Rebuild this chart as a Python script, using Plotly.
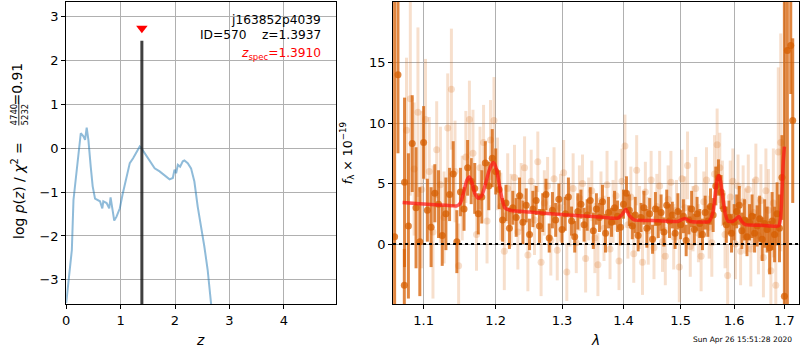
import plotly.graph_objects as go

# ---------------- data ----------------
# p(z) curve
pz_z = [0.0, 0.043, 0.104, 0.134, 0.183, 0.244, 0.268, 0.317, 0.347, 0.377, 0.408, 0.451, 0.487, 0.530,
        0.621, 0.664, 0.682, 0.743, 0.791, 0.816, 0.852, 0.883, 0.925, 0.986, 1.035, 1.078, 1.120, 1.169,
        1.230, 1.291, 1.352, 1.382, 1.425, 1.473, 1.565, 1.626, 1.717, 1.839, 1.900, 1.960, 1.991, 2.021,
        2.052, 2.094, 2.143, 2.173, 2.234, 2.295, 2.356, 2.417, 2.478, 2.539, 2.600, 2.661, 2.70]
pz_logp = [-3.53, -3.0, -2.32, -1.18, -0.57, 0.19, 0.34, 0.27, 0.19, 0.47, 0.19, -0.42, -0.87, -1.15,
           -1.21, -1.37, -1.21, -1.25, -1.37, -1.12, -1.40, -1.65, -1.56, -1.37, -1.06, -0.83, -0.57, -0.34,
           -0.23, -0.11, 0.04, 0.0, -0.08, -0.19, -0.34, -0.46, -0.53, -0.64, -0.71, -0.68, -0.49, -0.57,
           -0.38, -0.42, -0.30, -0.28, -0.34, -0.46, -0.76, -1.33, -1.75, -2.24, -2.77, -3.53, -4.0]
z_spec = 1.3910
z_best = 1.3937
zspec_line_top = 2.45
zspec_marker_y = 2.73
chi2_num = 4740
chi2_den = 5232
chi2_red = 0.91

# spectrum: binned (dark) points
dark_wave = [1.075, 1.080, 1.085, 1.090, 1.095, 1.100, 1.105, 1.110, 1.115, 1.120, 1.125, 1.130, 1.135,
             1.140, 1.145, 1.150, 1.155, 1.160, 1.165, 1.170, 1.175, 1.180, 1.185, 1.190, 1.195, 1.200,
             1.205, 1.210, 1.215, 1.220, 1.225, 1.230, 1.235, 1.240, 1.245, 1.250, 1.255, 1.260, 1.265,
             1.270, 1.275, 1.280, 1.285, 1.290, 1.295, 1.300, 1.305, 1.310, 1.315, 1.320, 1.325, 1.330,
             1.335, 1.340, 1.345, 1.350, 1.355, 1.360, 1.365, 1.370, 1.375, 1.380, 1.385, 1.390, 1.395,
             1.400, 1.405, 1.410, 1.415, 1.420, 1.425, 1.430, 1.435, 1.440, 1.445, 1.450, 1.455, 1.460,
             1.465, 1.470, 1.475, 1.480, 1.485, 1.490, 1.495, 1.500, 1.505, 1.510, 1.515, 1.520, 1.525,
             1.530, 1.535, 1.540, 1.545, 1.550, 1.555, 1.560, 1.565, 1.570, 1.575, 1.580, 1.585, 1.590,
             1.595, 1.600, 1.605, 1.610, 1.615, 1.620, 1.625, 1.630, 1.635, 1.640, 1.645, 1.650, 1.655,
             1.660, 1.665, 1.670, 1.675, 1.680, 1.685, 1.690, 1.695]
dark_flux = [5.1, 1.5, 8.3, 3.0, 0.2, 8.4, 2.8, 1.4, 4.2, 3.3, 0.7, 2.5, 4.1,
             5.8, 0.2, 4.3, 2.9, 6.3, 5.2, 4.6, 2.5, 3.9, 6.7, 4.8, 7.1, 6.0,
             4.5, 2.0, 3.4, 1.3, 3.0, 2.2, 4.0, 1.8, 3.2, 0.8, 2.9, 3.6, 1.5,
             2.6, 4.1, 0.5, 2.8, 2.0, 3.7, 1.2, 2.5, 3.9, 1.9, 0.6, 2.7, 3.3,
             1.6, 2.4, 3.6, 1.1, 2.9, 2.2, 3.5, 0.9, 2.6, 1.8, 3.0, 2.3, 1.4,
             3.3, 4.2, 2.8, 1.5, 2.4, 0.7, 2.2, 3.0, 1.3, 2.5, 0.4, 2.9, 1.8,
             2.6, 1.0, 3.2, 1.9, 2.4, 0.9, 2.7, 1.6, 2.3, 0.3, 2.0, 2.9, 1.2,
             2.5, 1.7, 0.8, 2.6, 1.9, 3.1, 2.4, 4.8, 5.5, 4.3, 2.9, 1.6, 2.2,
             0.9, 1.8, 2.7, 3.2, 1.1, 2.0, 0.6, 1.8, 2.3, 0.9, 1.5, 2.1, 0.4,
             1.7, 1.2, -0.3, 1.9, 0.8, 2.5, 1.3, 5.5]
dark_err = [7.0, 6.0, 4.0, 5.0, 4.5,
            3.0, 2.6, 3.3, 2.4, 2.8, 2.5, 3.0, 2.2, 2.7, 2.6,
            2.0, 1.8, 2.3, 1.9, 2.1, 1.7, 2.2, 1.8, 2.0, 2.4, 1.9, 1.6, 1.8, 1.5, 1.7, 1.4, 1.6, 1.5, 1.8, 1.4,
            1.3, 1.5, 1.2, 1.4, 1.6, 1.3, 1.2, 1.5, 1.4, 1.3, 1.1, 1.4, 1.6, 1.2, 1.3, 1.5, 1.2, 1.4, 1.3, 1.1,
            1.5, 1.3, 1.2, 1.4, 1.6, 1.3, 1.2, 1.4, 1.3, 1.5, 1.2, 1.4, 1.3, 1.1, 1.5, 1.3, 1.2, 1.4, 1.6, 1.3,
            1.2, 1.4, 1.3, 1.5, 1.2, 1.3, 1.4, 1.1, 1.3, 1.5, 1.2, 1.4, 1.3, 1.2, 1.5, 1.3, 1.4, 1.2, 1.3, 1.4,
            1.3, 1.5, 1.4, 1.6, 1.5, 1.4, 1.3, 1.5, 1.4, 1.6, 1.5, 1.4, 1.6, 1.5, 1.7, 1.6, 1.5, 1.8, 1.6, 1.7,
            1.9, 1.8, 2.0, 1.9, 2.2, 2.4, 2.3, 2.6, 2.8, 3.5]

# edge points with very large uncertainties
edge_wave = [1.0622, 1.0665, 1.0747, 1.7000, 1.7061, 1.7131, 1.7172]
edge_flux = [0.6, 14.0, -3.4, -4.3, 16.0, 16.4, 10.2]
edge_err = [26.0, 6.5, 3.0, 26.0, 22.0, 4.0, 6.8]

# spectrum: unbinned (light) points
light_wave = [1.0775, 1.0825, 1.0875, 1.0925, 1.0975, 1.1025, 1.1075, 1.1125, 1.1175, 1.1225, 1.1275,
              1.1325, 1.1375, 1.1425, 1.1475, 1.1525, 1.1575, 1.1625, 1.1675, 1.1725, 1.1775, 1.1825,
              1.1875, 1.1925, 1.1975, 1.2025, 1.2075, 1.2125, 1.2175, 1.2225, 1.2275, 1.2325, 1.2375,
              1.2425, 1.2475, 1.2525, 1.2575, 1.2625, 1.2675, 1.2725, 1.2775, 1.2825, 1.2875, 1.2925,
              1.2975, 1.3025, 1.3075, 1.3125, 1.3175, 1.3225, 1.3275, 1.3325, 1.3375, 1.3425, 1.3475,
              1.3525, 1.3575, 1.3625, 1.3675, 1.3725, 1.3775, 1.3825, 1.3875, 1.3925, 1.3975, 1.4025,
              1.4075, 1.4125, 1.4175, 1.4225, 1.4275, 1.4325, 1.4375, 1.4425, 1.4475, 1.4525, 1.4575,
              1.4625, 1.4675, 1.4725, 1.4775, 1.4825, 1.4875, 1.4925, 1.4975, 1.5025, 1.5075, 1.5125,
              1.5175, 1.5225, 1.5275, 1.5325, 1.5375, 1.5425, 1.5475, 1.5525, 1.5575, 1.5625, 1.5675,
              1.5725, 1.5775, 1.5825, 1.5875, 1.5925, 1.5975, 1.6025, 1.6075, 1.6125, 1.6175, 1.6225,
              1.6275, 1.6325, 1.6375, 1.6425, 1.6475, 1.6525, 1.6575, 1.6625, 1.6675, 1.6725, 1.6775,
              1.6825, 1.6875, 1.6925]
light_flux = [9.4, 12.0, 6.2, 10.9, 4.5, 10.3, 6.0, 1.0, 7.8, 4.9, 2.2,
              9.6, 12.8, 6.0, -1.8, 3.8, 7.2, 10.3, 7.5, 0.8, 6.3, 8.4,
              1.9, 8.6, 10.2, 5.8, 3.1, -0.6, 4.6, 2.8, 5.5, 1.0, 3.9,
              6.3, -0.9, 5.2, 2.0, 6.8, -1.5, 3.4, 4.8, 0.3, 5.4, -0.5,
              3.0, 5.9, -2.3, 2.4, 4.6, 0.1, 3.8, 5.0, -1.2, 2.9, 4.4,
              0.5, -1.7, 3.6, 1.3, 4.9, -0.4, 2.7, 4.0, -1.4, 5.2, 8.1,
              1.6, 3.9, -0.8, 6.1, 2.2, -1.5, 4.3, 1.1, 5.3, -0.3, 3.1,
              4.8, 0.2, -1.0, 3.7, 5.1, 0.6, 2.8, -1.9, 5.4, 3.0, 6.5,
              -0.2, 2.1, 4.6, 0.9, -1.0, 3.5, 5.3, 1.4, 0.1, 5.8, 8.2,
              6.3, 4.2, 0.8, -2.6, 3.9, 5.2, 0.0, 4.8, -0.6, 3.5, 1.9,
              4.5, -0.4, 2.6, 5.3, 0.7, 3.6, -1.1, 4.4, 2.8, -2.2, 3.4,
              -3.4, 7.6, 8.4]
light_err = [6.0, 8.0, 5.5, 7.0, 6.5,
             5.0, 4.5, 5.5, 4.0, 4.8, 3.8, 4.5, 5.0, 4.2, 3.5,
             3.5, 3.8, 3.2, 3.6, 3.0, 3.4, 3.1, 3.5, 3.3, 3.6, 3.0, 2.8, 3.2, 2.9, 3.0, 2.7, 3.1, 2.8, 2.6, 3.0,
             2.6, 2.9, 2.5, 2.8, 2.7, 2.4, 2.9, 2.6, 2.5, 2.8, 2.7, 2.4, 2.6, 2.9, 2.5, 2.7, 2.4, 2.8, 2.6, 2.5,
             2.9, 2.6, 2.4, 2.7, 2.8, 2.5, 2.6, 2.9, 2.4, 2.7, 2.6, 2.8, 2.5, 2.4, 2.9, 2.6, 2.7, 2.5, 2.8, 2.4,
             2.6, 2.7, 2.9, 2.5, 2.4, 2.8, 2.6, 2.7, 2.5, 2.9, 2.4, 2.6, 2.8, 2.5, 2.7, 2.6, 2.4, 2.9, 2.5, 2.7,
             2.6, 2.8, 3.2, 3.0, 2.9, 2.7, 2.8, 2.6, 3.0, 2.7, 2.9, 2.6, 2.8, 3.0, 2.7, 2.9, 3.1, 2.8, 3.0, 3.2,
             3.0, 3.3, 3.5, 3.4, 3.8, 4.5, 5.5, 7.0, 9.0]

# best-fit model
model_wave = [1.0725, 1.09, 1.11, 1.13, 1.145, 1.150, 1.155, 1.159, 1.1625, 1.166, 1.170, 1.175, 1.180,
              1.185, 1.190, 1.1945, 1.1973, 1.201, 1.205, 1.209, 1.2133, 1.223, 1.25, 1.3037, 1.35,
              1.3904, 1.397, 1.404, 1.41, 1.418, 1.45, 1.4944, 1.5075, 1.5185, 1.5519, 1.559, 1.564,
              1.5675, 1.5707, 1.574, 1.578, 1.583, 1.588, 1.597, 1.603, 1.609, 1.615, 1.6221, 1.65,
              1.6883, 1.6922, 1.6975, 1.700]
model_flux = [3.43, 3.35, 3.27, 3.2, 3.16, 3.4, 4.4, 5.3, 5.55, 5.1, 4.2, 3.79, 4.0,
              4.9, 6.0, 6.6, 6.73, 6.2, 5.0, 3.8, 3.0, 2.77, 2.65, 2.42, 2.28,
              2.14, 2.4, 2.88, 2.35, 2.0, 1.94, 1.87, 2.12, 1.87, 1.87, 2.5, 4.1,
              5.3, 5.66, 5.2, 3.9, 2.5, 1.9, 1.87, 2.05, 2.28, 1.85, 1.6, 1.55,
              1.51, 2.14, 6.68, 8.05]

assert len(dark_wave) == len(dark_flux) == len(dark_err)
assert len(light_wave) == len(light_flux) == len(light_err)
assert len(model_wave) == len(model_flux)

zticks = [0, 1, 2, 3, 4]
pticks = [-3, -2, -1, 0, 1, 2, 3]
wticks = [1.1, 1.2, 1.3, 1.4, 1.5, 1.6, 1.7]
fticks = [0, 5, 10, 15]

# ---------------- styles ----------------
W, H = 800, 350
FONT = "DejaVu Sans"
G141 = "213,94,0"
grid = "#b0b0b0"

fig = go.Figure()

# left panel
fig.add_trace(go.Scatter(x=pz_z, y=pz_logp, mode="lines", xaxis="x", yaxis="y",
                         line=dict(color="rgba(31,119,180,0.5)", width=2), hoverinfo="skip"))
fig.add_trace(go.Scatter(x=[z_spec, z_spec], y=[-3.7, zspec_line_top], mode="lines", xaxis="x", yaxis="y",
                         line=dict(color="rgba(30,30,30,0.85)", width=3), hoverinfo="skip"))
fig.add_trace(go.Scatter(x=[z_spec], y=[zspec_marker_y], mode="markers", xaxis="x", yaxis="y",
                         marker=dict(symbol="triangle-down", color="red", size=10, line=dict(width=0)),
                         hoverinfo="skip", cliponaxis=False))

# right panel
fig.add_trace(go.Scatter(x=light_wave, y=light_flux, mode="markers", xaxis="x2", yaxis="y2",
                         marker=dict(color=f"rgba({G141},0.2)", size=7, line=dict(width=0)),
                         error_y=dict(type="data", array=light_err, visible=True, width=0, thickness=3,
                                      color=f"rgba({G141},0.2)"),
                         hoverinfo="skip"))
fig.add_trace(go.Scatter(x=dark_wave, y=dark_flux, mode="markers", xaxis="x2", yaxis="y2",
                         marker=dict(color=f"rgba({G141},0.75)", size=7, line=dict(width=0)),
                         error_y=dict(type="data", array=dark_err, visible=True, width=0, thickness=3,
                                      color=f"rgba({G141},0.75)"),
                         hoverinfo="skip"))
fig.add_trace(go.Scatter(x=edge_wave, y=edge_flux, mode="markers", xaxis="x2", yaxis="y2",
                         marker=dict(color=f"rgba({G141},0.75)", size=7, line=dict(width=0)),
                         error_y=dict(type="data", array=edge_err, visible=True, width=0, thickness=3,
                                      color=f"rgba({G141},0.75)"),
                         hoverinfo="skip"))
fig.add_trace(go.Scatter(x=model_wave, y=model_flux, mode="lines", xaxis="x2", yaxis="y2",
                         line=dict(color="rgba(255,20,20,0.7)", width=3.5, shape="spline", smoothing=0.5),
                         hoverinfo="skip"))

axis_common = dict(showgrid=True, gridcolor=grid, gridwidth=1, zeroline=False,
                   showline=True, linecolor="black", linewidth=1, mirror=True,
                   ticks="outside", ticklen=4, tickcolor="black",
                   tickfont=dict(family=FONT, size=13, color="black"))

def px2x(px):
    return px / W

def px2y(py):
    return 1 - py / H

fig.update_layout(
    width=W, height=H, margin=dict(l=0, r=0, t=0, b=0),
    paper_bgcolor="white", plot_bgcolor="white", showlegend=False,
    xaxis=dict(domain=[px2x(62.5), px2x(334)], range=[0, 4.965], tickvals=zticks, anchor="y", **axis_common),
    yaxis=dict(domain=[px2y(304), px2y(2)], range=[-3.55, 3.33], tickvals=pticks,
               ticktext=["\u22123", "\u22122", "\u22121", "0", "1", "2", "3"], anchor="x", **axis_common),
    xaxis2=dict(domain=[px2x(391), px2x(799)], type="log", range=[0.02538, 0.23811], tickvals=wticks,
                ticktext=["1.1", "1.2", "1.3", "1.4", "1.5", "1.6", "1.7"], anchor="y2", **axis_common),
    yaxis2=dict(domain=[px2y(304), px2y(2)], range=[-4.95, 20.0], tickvals=fticks, anchor="x2",
                **axis_common),
    shapes=[dict(type="line", xref="x2 domain", yref="y2", x0=0, x1=1, y0=0, y1=0,
                 line=dict(color="black", width=2, dash="dot"))],
)

txt_font = dict(family=FONT, size=12.2, color="black")
lab_font = dict(family=FONT, size=13.9, color="black")
nb = "\u00a0"
annotations = [
    dict(x=px2x(321), y=px2y(20), text="j163852p4039", xanchor="right", yanchor="middle", font=txt_font),
    dict(x=px2x(321), y=px2y(35), text=f"ID=570{nb*4}z={z_best:.4f}", xanchor="right", yanchor="middle",
         font=txt_font),
    dict(x=px2x(321), y=px2y(54), text=f"<i>z</i><sub>spec</sub>={z_spec:.4f}", xanchor="right",
         yanchor="middle", font=dict(family=FONT, size=12.2, color="red")),
    # left y label, in three pieces with a stacked fraction
    dict(x=px2x(13.5), y=px2y(241),
         text=f"log <i>p</i>(<i>z</i>) / <i>\u03c7</i><sup>2</sup> =",
         textangle=-90, xanchor="center", yanchor="bottom", font=lab_font),
    dict(x=px2x(15.5), y=px2y(114), text=f"<u>{chi2_num}</u><br>{chi2_den}",
         textangle=-90, xanchor="center", yanchor="middle",
         font=dict(family=FONT, size=8.5, color="black")),
    dict(x=px2x(13.5), y=px2y(84), text=f"={chi2_red:.2f}",
         textangle=-90, xanchor="center", yanchor="middle", font=lab_font),
    dict(x=px2x(197), y=px2y(340), text="<i>z</i>", xanchor="center", yanchor="middle", font=lab_font),
    dict(x=px2x(594), y=px2y(340), text="<i>\u03bb</i>", xanchor="center", yanchor="middle", font=lab_font),
    dict(x=px2x(345), y=px2y(153), text="<i>f</i><sub>\u03bb</sub> \u00d7 10<sup>\u221219</sup>",
         textangle=-90, xanchor="center", yanchor="middle", font=dict(family=FONT, size=12.5, color="black")),
    dict(x=px2x(742), y=px2y(339), text="Sun Apr 26 15:51:28 2020", xanchor="center", yanchor="middle",
         font=dict(family=FONT, size=7.5, color="black")),
]
for a in annotations:
    a.update(xref="paper", yref="paper", showarrow=False)
fig.update_layout(annotations=annotations)

fig.write_html("out.html", config={"displayModeBar": False},
               post_script="document.body.style.margin='0px';document.body.style.overflow='hidden';")
